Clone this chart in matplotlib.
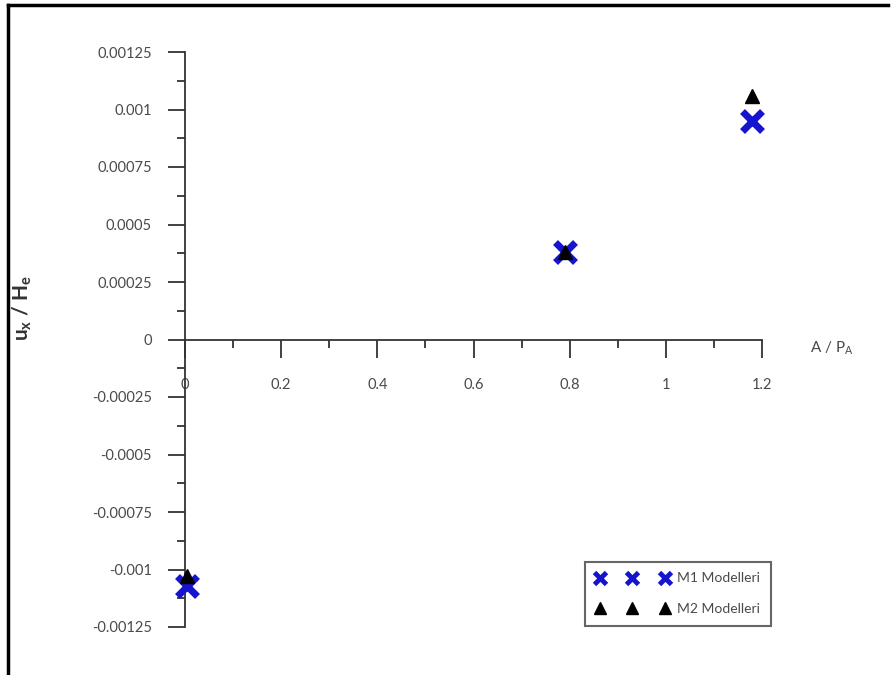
import numpy as np
import matplotlib
matplotlib.use("Agg")
import matplotlib.pyplot as plt
from matplotlib.lines import Line2D
from matplotlib.ticker import MultipleLocator

# Data
ap_m1 = [0.005, 0.79, 1.18]
ux_m1 = [-0.00107, 0.00038, 0.00095]
ap_m2 = [0.005, 0.79, 1.18]
ux_m2 = [-0.00103, 0.00038, 0.00106]

x_ticks = [0, 0.2, 0.4, 0.6, 0.8, 1, 1.2]
x_ticklabels = ["0", "0.2", "0.4", "0.6", "0.8", "1", "1.2"]
y_ticks = [-0.00125, -0.001, -0.00075, -0.0005, -0.00025, 0,
           0.00025, 0.0005, 0.00075, 0.001, 0.00125]
y_ticklabels = ["-0.00125", "-0.001", "-0.00075", "-0.0005", "-0.00025", "0",
                "0.00025", "0.0005", "0.00075", "0.001", "0.00125"]

plt.rcParams['font.family'] = ['Lato', 'DejaVu Sans']
plt.rcParams['mathtext.default'] = 'regular'
txt_col = '#4a4a4a'
blue = '#1515d0'

fig = plt.figure(figsize=(8.96, 6.75), dpi=100)
ax = fig.add_axes([185 / 896, 1 - 627 / 675, 577 / 896, 575 / 675])

ax.plot(ap_m1, ux_m1, ls='none', marker='x', ms=14, mew=5, color=blue,
        clip_on=False, zorder=3, label='M1 Modelleri')
ax.plot(ap_m2, ux_m2, ls='none', marker='^', ms=10, color='black',
        clip_on=False, zorder=4, label='M2 Modelleri')

ax.set_xlim(0, 1.2)
ax.set_ylim(-0.00125, 0.00125)

# axes cross at the origin
ax.spines['left'].set_position(('data', 0))
ax.spines['bottom'].set_position(('data', 0))
ax.spines['top'].set_visible(False)
ax.spines['right'].set_visible(False)
for s in ('left', 'bottom'):
    ax.spines[s].set_color('#333333')
    ax.spines[s].set_linewidth(1.3)

ax.set_xticks(x_ticks)
ax.set_xticklabels(x_ticklabels)
ax.set_yticks(y_ticks)
ax.set_yticklabels(y_ticklabels)
ax.xaxis.set_minor_locator(MultipleLocator(0.1))
ax.yaxis.set_minor_locator(MultipleLocator(0.000125))

ax.tick_params(axis='both', which='major', direction='out', colors='#333333',
               labelcolor=txt_col, labelsize=10.5, width=1.3)
ax.tick_params(axis='both', which='minor', direction='out', colors='#333333', width=1.3)
ax.tick_params(axis='x', which='major', length=13, pad=15)
ax.tick_params(axis='x', which='minor', length=6)
ax.tick_params(axis='y', which='major', length=12, pad=12)
ax.tick_params(axis='y', which='minor', length=6)

# axis titles
fig.text(22 / 896, 1 - 308 / 675, r'u$_x$ / H$_e$', rotation=90, ha='center',
         va='center', fontsize=15, fontweight='bold', color='#333333')
fig.text(810 / 896, 1 - 348 / 675, r'A / P$_A$', ha='left', va='center',
         fontsize=11, color=txt_col)

# legend
h1 = Line2D([], [], ls='none', marker='x', ms=9, mew=3.5, color=blue)
h2 = Line2D([], [], ls='none', marker='^', ms=9, color='black')
leg = fig.legend([h1, h2], ['M1 Modelleri', 'M2 Modelleri'], numpoints=3,
                 handlelength=5.3, handletextpad=0.6, fontsize=10,
                 loc='upper left', bbox_to_anchor=(585 / 896, 1 - 562 / 675),
                 borderaxespad=0, fancybox=False, shadow=False,
                 borderpad=0.75, labelspacing=1.35, edgecolor='#666666',
                 framealpha=1)
leg.get_frame().set_linewidth(1.5)
for t in leg.get_texts():
    t.set_color(txt_col)

# frame lines around the picture (left and top only)
fig.add_artist(Line2D([8 / 896, 8 / 896], [0, 1 - 5 / 675], color='black',
                      lw=2.5, transform=fig.transFigure))
fig.add_artist(Line2D([8 / 896, 888 / 896], [1 - 5 / 675, 1 - 5 / 675],
                      color='black', lw=2.5, transform=fig.transFigure))

fig.savefig('out.png', dpi=100)
